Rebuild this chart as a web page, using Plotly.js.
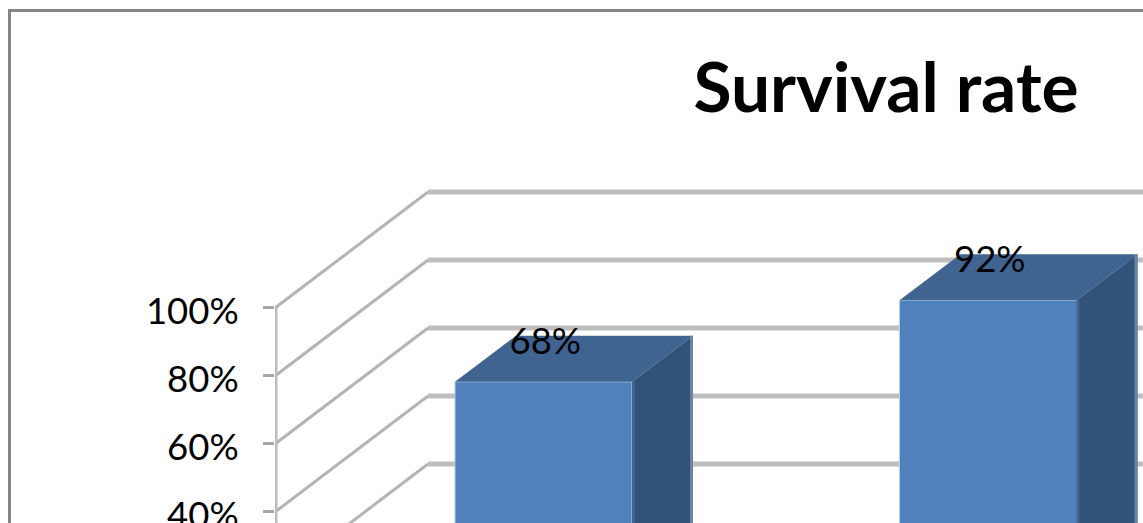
<!DOCTYPE html>
<html><head><meta charset="utf-8">
<script src="https://cdn.plot.ly/plotly-3.0.1.min.js"></script>
<style>html,body{margin:0;padding:0;background:#fff;overflow:hidden}</style>
</head><body><div id="chart" style="width:1143px;height:523px"></div>
<script>
const chartTitle = 'Survival rate';
const categories = [0, 1];
const survival = [68, 92];
const labels = ['68%', '92%'];
const tickValues = [0, 20, 40, 60, 80, 100];
const tickLabels = ['0%', '20%', '40%', '60%', '80%', '100%'];

// oblique projection of the 3D chart, in axis units
const xUnit = 444.5, yUnit = 3.4;
const wallDx = 153 / xUnit, wallDy = 116 / yUnit;   // depth of the floor
const barDx = 61 / xUnit, barDy = 46 / yUnit;       // depth of a bar
const frontDy = 35 / yUnit;                         // bar front sits this far up the floor
const barW = 177 / xUnit;
const xMin = -268.5 / xUnit, xMax = 599.5 / xUnit;
const yMin = 36.76, yMax = 190.59;

const traces = [];
traces.push({type:'bar', x:categories, y:survival, base:categories.map(()=>frontDy), width:barW,
  marker:{color:'#4f81bd', line:{color:'#b9cde5', width:1}}, hoverinfo:'skip', showlegend:false});
categories.forEach((c,i)=>{
  const v = survival[i], t = v + frontDy, l = c - barW/2, r = c + barW/2;
  traces.push({type:'scatter', mode:'lines', x:[l,r,r+barDx,l+barDx,l], y:[t,t,t+barDy,t+barDy,t],
    fill:'toself', fillcolor:'#3f6492', line:{width:0}, hoverinfo:'skip', showlegend:false});
  traces.push({type:'scatter', mode:'lines', x:[r,r+barDx,r+barDx,r,r], y:[t,t+barDy,frontDy+barDy,frontDy,t],
    fill:'toself', fillcolor:'#325379', line:{width:0}, hoverinfo:'skip', showlegend:false});
  // lighter rim on the back edge of the side face, darker rim on its front edge
  traces.push({type:'scatter', mode:'lines', x:[r+barDx-1.5/xUnit,r+barDx-1.5/xUnit], y:[t+barDy,frontDy+barDy],
    line:{color:'#6c83a3', width:3}, hoverinfo:'skip', showlegend:false});
  traces.push({type:'scatter', mode:'lines', x:[r+1.5/xUnit,r+1.5/xUnit], y:[t,frontDy],
    line:{color:'#3f6492', width:3}, hoverinfo:'skip', showlegend:false});
});
// value axis line
traces.push({type:'scatter', mode:'lines', x:[xMin,xMin], y:[0,100], cliponaxis:false,
  line:{color:'#bcbcbc', width:5}, hoverinfo:'skip', showlegend:false});
// data labels
traces.push({type:'scatter', mode:'text', x:categories.map(c=>c+0.004), y:survival.map(v=>v+frontDy+11),
  text:labels, textposition:'middle center', textfont:{family:'Lato, sans-serif', size:36.5, color:'#000'},
  hoverinfo:'skip', showlegend:false});

const shapes = [];
tickValues.forEach(v=>{
  shapes.push({type:'line', layer:'below', xref:'x', yref:'y', x0:xMin, y0:v, x1:xMin+wallDx, y1:v+wallDy,
    line:{color:'#b4b4b4', width:3}});
  shapes.push({type:'line', layer:'below', xref:'x', yref:'y', x0:xMin+wallDx, y0:v+wallDy, x1:xMax, y1:v+wallDy,
    line:{color:'#bebebe', width:5}});
});
// chart frame
const px = 275, pw = 868;
shapes.push({type:'line', xref:'paper', yref:'paper', x0:(9.5-px)/pw, x1:(9.5-px)/pw, y0:0, y1:1-9/523, line:{color:'#868686', width:3}});
shapes.push({type:'line', xref:'paper', yref:'paper', x0:(8-px)/pw, x1:1, y0:1-10.5/523, y1:1-10.5/523, line:{color:'#868686', width:3}});

const layout = {
  width:1143, height:523, paper_bgcolor:'#fff', plot_bgcolor:'#fff',
  margin:{l:px, r:0, t:0, b:0, pad:0},
  title:{text:'<b>'+chartTitle+'</b>', x:886/1143, y:1-88/523, xref:'container', yref:'container',
    xanchor:'center', yanchor:'middle', font:{family:'Lato, sans-serif', size:69.5, color:'#000'}},
  xaxis:{range:[xMin,xMax], visible:false, fixedrange:true},
  yaxis:{range:[yMin,yMax], tickmode:'array', tickvals:tickValues, ticktext:tickLabels, ticks:'outside', ticklen:11,
    tickwidth:3, tickcolor:'#a6a6a6', showgrid:false, zeroline:false, showline:false, ticklabelstandoff:17,
    ticklabelshift:3, ticklabeloverflow:'allow',
    tickfont:{family:'Lato, sans-serif', size:36.5, color:'#000'}, fixedrange:true},
  shapes:shapes, showlegend:false, bargap:0
};
Plotly.newPlot('chart', traces, layout, {displayModeBar:false, staticPlot:true});
</script></body></html>
